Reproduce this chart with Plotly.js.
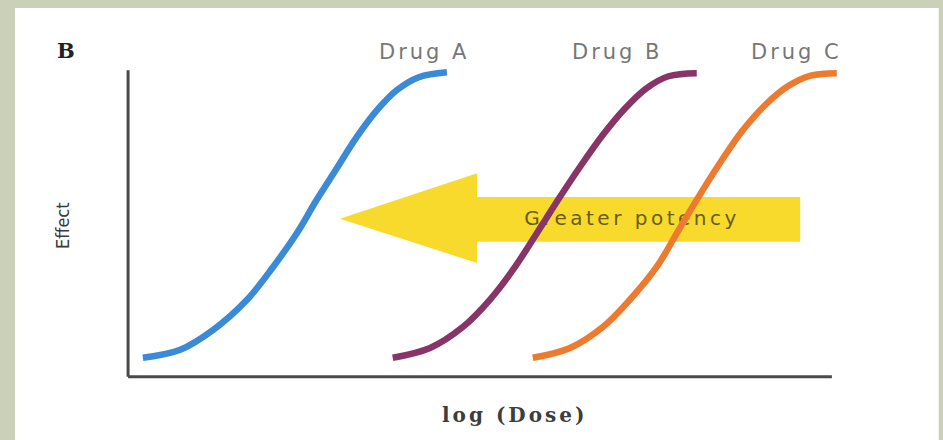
<!DOCTYPE html>
<html>
<head>
<meta charset="utf-8">
<script src="https://cdn.plot.ly/plotly-3.0.1.min.js"></script>
<style>
  html, body { margin: 0; padding: 0; background: #cbd0b8; }
  #chart { width: 943px; height: 440px; }
  g.annotation[data-index="2"] text,
  g.annotation[data-index="3"] text,
  g.annotation[data-index="4"] text { letter-spacing: 3px; }
  g.annotation[data-index="5"] text { letter-spacing: 3px; }
  .textpoint text { letter-spacing: 3.5px; }
</style>
</head>
<body>
<div id="chart"></div>
<script>
// Dose-response curves (x = log dose, y = effect %)
const drugNames = ["Drug A", "Drug B", "Drug C"];
const drugColors = ["#3a8ad8", "#883466", "#ee7a30"];

const drugAX = [0.21, 0.74, 1.21, 1.69, 2.06, 2.40, 2.68, 2.95, 3.25, 3.54, 3.82, 4.13, 4.53];
const drugAY = [6.2, 8.8, 15.3, 25.1, 35.8, 46.9, 57.7, 67.4, 78.2, 87.0, 93.5, 97.7, 99.3];

const drugBX = [3.76, 4.29, 4.76, 5.14, 5.47, 5.81, 6.11, 6.42, 6.75, 7.06, 7.36, 7.68, 8.08];
const drugBY = [6.2, 9.4, 16.3, 25.1, 34.9, 46.9, 57.7, 68.4, 79.0, 87.5, 94.0, 98.0, 99.0];

const drugCX = [5.75, 6.28, 6.75, 7.13, 7.51, 7.80, 8.08, 8.41, 8.72, 9.06, 9.38, 9.70, 10.07];
const drugCY = [6.2, 9.4, 16.3, 25.1, 35.8, 46.9, 57.7, 69.7, 80.0, 88.8, 94.8, 98.2, 99.0];

const arrowLabel = "Greater potency";
const arrowLabelPos = [7.16, 51.1];
// arrow outline (data units): tip, head, body end
const arrowTip = [3.01, 51.5];
const arrowHeadX = 4.96, arrowHeadTop = 66.4, arrowHeadBottom = 37.1;
const arrowBodyTop = 58.6, arrowBodyBottom = 44.0, arrowBodyEnd = 9.55;

const xTitle = "log (Dose)";
const yTitle = "Effect";
const panelLabel = "B";

const xs = [drugAX, drugBX, drugCX];
const ys = [drugAY, drugBY, drugCY];

const traces = [{
  x: [arrowLabelPos[0]], y: [arrowLabelPos[1]],
  mode: "text", text: [arrowLabel], textposition: "middle center",
  textfont: { family: "DejaVu Sans", size: 20, color: "#6b5c16" },
  hoverinfo: "skip", showlegend: false, cliponaxis: false
}];
for (let i = 0; i < 3; i++) {
  traces.push({
    x: xs[i], y: ys[i], mode: "lines", name: drugNames[i],
    line: { color: drugColors[i], width: 6.5, shape: "spline", smoothing: 1.0 },
    showlegend: false, hoverinfo: "skip"
  });
}

const arrowPath = `M ${arrowTip[0]},${arrowTip[1]} L ${arrowHeadX},${arrowHeadTop} L ${arrowHeadX},${arrowBodyTop} ` +
  `L ${arrowBodyEnd},${arrowBodyTop} L ${arrowBodyEnd},${arrowBodyBottom} L ${arrowHeadX},${arrowBodyBottom} ` +
  `L ${arrowHeadX},${arrowHeadBottom} Z`;

const ann = (text, x, y, font, extra) => Object.assign({
  text, xref: "paper", yref: "paper", x, y, xanchor: "center", yanchor: "middle",
  showarrow: false, font
}, extra || {});

const layout = {
  width: 943, height: 440,
  margin: { l: 114, r: 90, t: 64, b: 51 },
  paper_bgcolor: "#cbd0b8",
  plot_bgcolor: "rgba(0,0,0,0)",
  showlegend: false,
  xaxis: { range: [-0.2, 10.3], showgrid: false, zeroline: false, showline: false,
           showticklabels: false, ticks: "", fixedrange: true },
  yaxis: { range: [-4, 102], showgrid: false, zeroline: false, showline: false,
           showticklabels: false, ticks: "", fixedrange: true },
  shapes: [
    { type: "rect", xref: "paper", yref: "paper", x0: -0.134, x1: 1.116, y0: -0.2, y1: 1.172,
      fillcolor: "#ffffff", line: { width: 0 }, layer: "below" },
    { type: "path", xref: "x", yref: "y", path: arrowPath, fillcolor: "#f7da2c",
      line: { width: 0 }, layer: "below" },
    { type: "line", xref: "x", yref: "y", x0: 0, x1: 10, y0: 0, y1: 0,
      line: { color: "#4a4a4a", width: 3 } },
    { type: "line", xref: "x", yref: "y", x0: 0, x1: 0, y0: 0, y1: 100,
      line: { color: "#4a4a4a", width: 3 } }
  ],
  annotations: [
    ann("<b>" + panelLabel + "</b>", -0.065, 1.043, { family: "DejaVu Serif", size: 21, color: "#222222" }),
    ann(yTitle, -0.0704, 0.5046, { family: "DejaVu Sans Condensed", size: 18, color: "#3a3a3a" }, { textangle: -90 }),
    ann(drugNames[0], 0.4208, 1.037, { family: "DejaVu Sans", size: 21, color: "#777777" }),
    ann(drugNames[1], 0.6807, 1.037, { family: "DejaVu Sans", size: 21, color: "#777777" }),
    ann(drugNames[2], 0.9242, 1.037, { family: "DejaVu Sans", size: 21, color: "#777777" }),
    ann("<b>" + xTitle + "</b>", 0.5426, -0.080, { family: "DejaVu Serif", size: 20, color: "#3d3d3d" })
  ]
};

Plotly.newPlot("chart", traces, layout, { staticPlot: true, displayModeBar: false });
</script>
</body>
</html>
